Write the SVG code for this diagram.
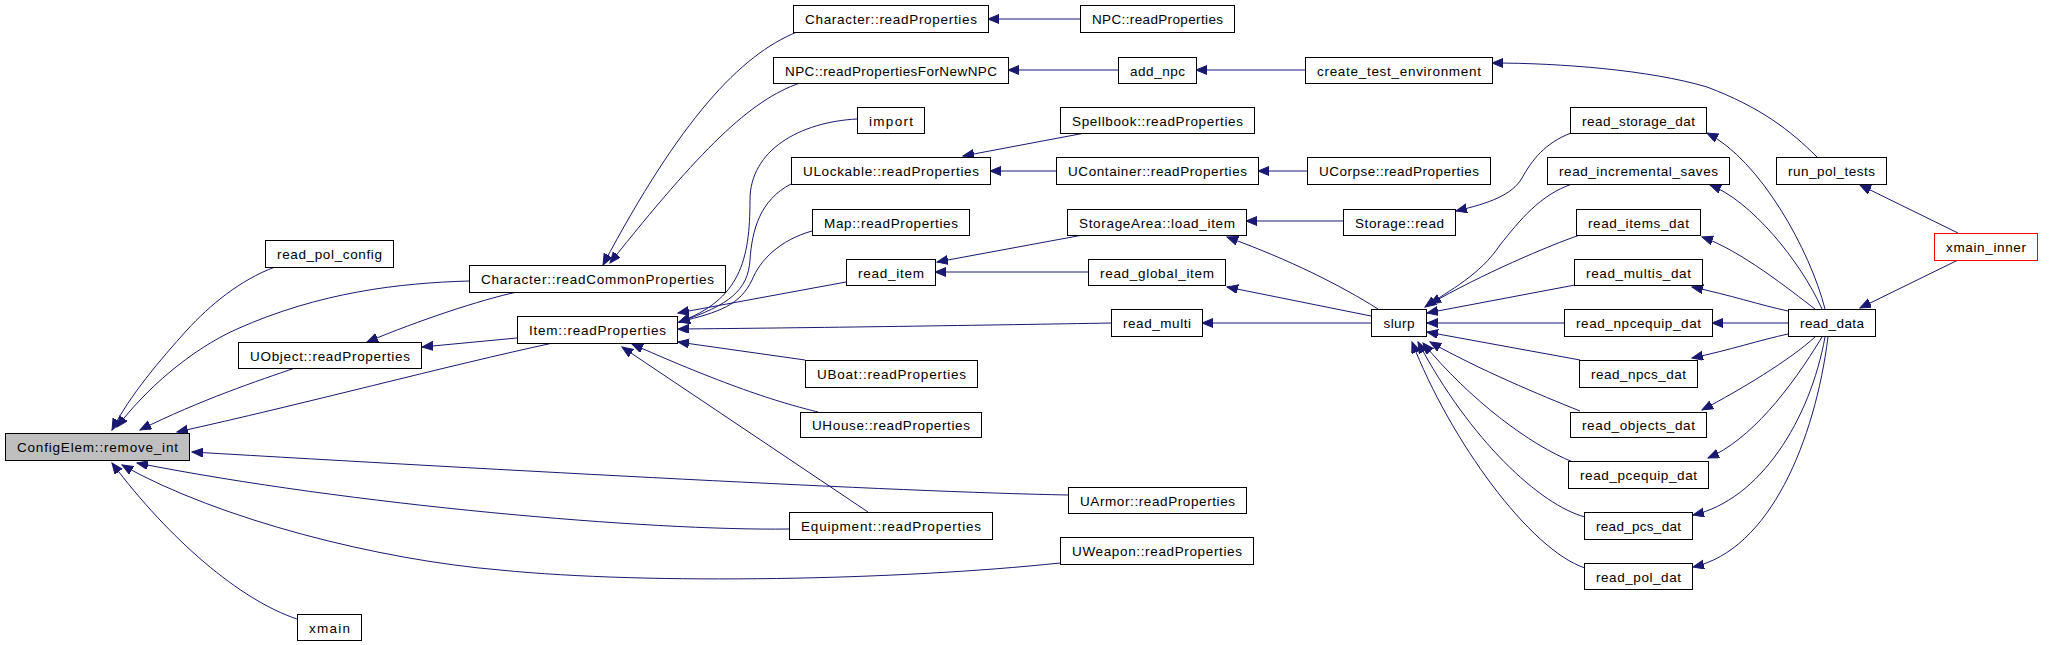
<svg xmlns="http://www.w3.org/2000/svg" width="2053" height="645" viewBox="0 0 2053 645">
<style>
.n rect{fill:#fff;stroke:#000;stroke-width:1}
.n text{font-family:"Liberation Sans",Arial,sans-serif;font-size:13.5px;fill:#000;text-anchor:middle}
#e path{fill:none;stroke:#191970;stroke-width:1;marker-end:url(#a)}
</style>
<defs>
<marker id="a" markerUnits="userSpaceOnUse" markerWidth="12" markerHeight="10" refX="11" refY="4.5" orient="auto"><path d="M0,0 L11,4.5 L0,9 z" fill="#191970" stroke="#191970"/></marker>
</defs>
<rect width="2053" height="645" fill="#fff"/>
<g id="e">
<path d="M275,267 C240,280 210,305 187,330 C160,360 130,395 112,430"/>
<path d="M469,281 C400,283 320,292 237,329 C190,350 145,390 117,427"/>
<path d="M295,368 C260,380 200,400 140,430"/>
<path d="M553,343 C450,365 300,405 177,432"/>
<path d="M1068,495 C900,492 500,470 192,452"/>
<path d="M789,529 C650,531 350,505 137,463"/>
<path d="M1060,563 C900,580 650,585 500,570 C380,560 220,520 122,465"/>
<path d="M297,619 C240,600 170,540 112,463"/>
<path d="M797,32 C740,55 680,120 603,265"/>
<path d="M800,83 C750,100 700,150 610,263"/>
<path d="M517,292 C480,300 420,320 367,342"/>
<path d="M517,338 L422,347"/>
<path d="M857,119 C800,122 750,150 750,200 C750,260 740,300 679,322"/>
<path d="M791,184 C760,200 752,230 750,260 C748,290 730,305 679,322"/>
<path d="M812,231 C780,240 760,260 752,280 C740,305 720,312 679,322"/>
<path d="M846,282 L678,313"/>
<path d="M1111,323 C1000,325 800,328 678,329"/>
<path d="M805,360 L678,342"/>
<path d="M818,412 C790,405 740,392 632,344"/>
<path d="M868,512 L622,347"/>
<path d="M1080,19 L988,19"/>
<path d="M1118,70 L1008,70"/>
<path d="M1305,70 L1196,70"/>
<path d="M1817,157 C1790,130 1760,107 1707,87 C1650,70 1560,63 1492,63"/>
<path d="M1958,233 L1860,185"/>
<path d="M1958,260 L1860,308"/>
<path d="M1085,133 L963,156"/>
<path d="M1056,171 L990,171"/>
<path d="M1307,171 L1258,171"/>
<path d="M1083,235 L937,262"/>
<path d="M1088,272 L935,272"/>
<path d="M1343,221 L1246,221"/>
<path d="M1571,133 C1545,143 1532,160 1522,178 C1512,195 1490,203 1456,211"/>
<path d="M1378,309 C1340,285 1290,260 1227,237"/>
<path d="M1371,316 L1227,287"/>
<path d="M1371,323 L1202,323"/>
<path d="M1572,184 C1540,195 1520,220 1500,245 C1480,275 1450,290 1425,307"/>
<path d="M1580,235 C1550,245 1480,275 1430,304"/>
<path d="M1575,285 L1427,313"/>
<path d="M1564,323 L1427,323"/>
<path d="M1580,360 L1427,332"/>
<path d="M1580,411 C1540,395 1480,370 1430,342"/>
<path d="M1573,462 C1530,445 1470,400 1423,343"/>
<path d="M1585,517 C1540,505 1470,440 1418,342"/>
<path d="M1585,568 C1530,550 1450,440 1412,342"/>
<path d="M1825,309 C1810,250 1760,160 1707,133"/>
<path d="M1822,309 C1800,260 1750,200 1710,185"/>
<path d="M1815,309 C1790,290 1740,250 1702,237"/>
<path d="M1788,311 C1760,305 1730,295 1692,287"/>
<path d="M1788,323 L1712,323"/>
<path d="M1788,334 C1760,340 1730,350 1692,358"/>
<path d="M1815,337 C1790,360 1740,390 1702,410"/>
<path d="M1822,337 C1790,390 1750,440 1708,458"/>
<path d="M1825,337 C1810,420 1760,500 1693,515"/>
<path d="M1828,337 C1815,440 1770,550 1693,567"/>
</g>
<g id="n_remove_int" class="n"><rect x="5.5" y="433.5" width="184" height="27" style="fill:#bfbfbf"/><text x="97.5" y="452" textLength="161" lengthAdjust="spacing">ConfigElem::remove_int</text></g>
<g id="n_read_pol_config" class="n"><rect x="265.5" y="240.5" width="128" height="27"/><text x="329.5" y="259" textLength="105" lengthAdjust="spacing">read_pol_config</text></g>
<g id="n_crcp" class="n"><rect x="469.5" y="265.5" width="256" height="27"/><text x="597.5" y="284" textLength="233" lengthAdjust="spacing">Character::readCommonProperties</text></g>
<g id="n_uobject" class="n"><rect x="238.5" y="342.5" width="183" height="26"/><text x="330" y="360.5" textLength="160" lengthAdjust="spacing">UObject::readProperties</text></g>
<g id="n_item" class="n"><rect x="517.5" y="316.5" width="160" height="27"/><text x="597.5" y="335" textLength="137" lengthAdjust="spacing">Item::readProperties</text></g>
<g id="n_xmain" class="n"><rect x="297.5" y="614.5" width="64" height="26"/><text x="329.5" y="632.5" textLength="41" lengthAdjust="spacing">xmain</text></g>
<g id="n_char_rp" class="n"><rect x="793.5" y="5.5" width="195" height="27"/><text x="891" y="24" textLength="172" lengthAdjust="spacing">Character::readProperties</text></g>
<g id="n_npc_rpfn" class="n"><rect x="773.5" y="57.5" width="235" height="26"/><text x="891" y="75.5" textLength="212" lengthAdjust="spacing">NPC::readPropertiesForNewNPC</text></g>
<g id="n_import" class="n"><rect x="857.5" y="107.5" width="67" height="26"/><text x="891" y="125.5" textLength="44" lengthAdjust="spacing">import</text></g>
<g id="n_ulockable" class="n"><rect x="791.5" y="157.5" width="199" height="27"/><text x="891" y="176" textLength="176" lengthAdjust="spacing">ULockable::readProperties</text></g>
<g id="n_map" class="n"><rect x="812.5" y="209.5" width="157" height="26"/><text x="891" y="227.5" textLength="134" lengthAdjust="spacing">Map::readProperties</text></g>
<g id="n_read_item" class="n"><rect x="846.5" y="259.5" width="89" height="26"/><text x="891" y="277.5" textLength="66" lengthAdjust="spacing">read_item</text></g>
<g id="n_uboat" class="n"><rect x="805.5" y="360.5" width="172" height="27"/><text x="891.5" y="379" textLength="149" lengthAdjust="spacing">UBoat::readProperties</text></g>
<g id="n_uhouse" class="n"><rect x="800.5" y="412.5" width="181" height="25"/><text x="891" y="430" textLength="158" lengthAdjust="spacing">UHouse::readProperties</text></g>
<g id="n_equipment" class="n"><rect x="789.5" y="512.5" width="203" height="27"/><text x="891" y="531" textLength="180" lengthAdjust="spacing">Equipment::readProperties</text></g>
<g id="n_uarmor" class="n"><rect x="1068.5" y="487.5" width="178" height="26"/><text x="1157.5" y="505.5" textLength="155" lengthAdjust="spacing">UArmor::readProperties</text></g>
<g id="n_uweapon" class="n"><rect x="1060.5" y="537.5" width="193" height="27"/><text x="1157" y="556" textLength="170" lengthAdjust="spacing">UWeapon::readProperties</text></g>
<g id="n_npc_rp" class="n"><rect x="1080.5" y="5.5" width="154" height="27"/><text x="1157.5" y="24" textLength="131" lengthAdjust="spacing">NPC::readProperties</text></g>
<g id="n_add_npc" class="n"><rect x="1118.5" y="57.5" width="78" height="26"/><text x="1157.5" y="75.5" textLength="55" lengthAdjust="spacing">add_npc</text></g>
<g id="n_cte" class="n"><rect x="1305.5" y="57.5" width="187" height="26"/><text x="1399" y="75.5" textLength="164" lengthAdjust="spacing">create_test_environment</text></g>
<g id="n_spellbook" class="n"><rect x="1060.5" y="107.5" width="194" height="26"/><text x="1157.5" y="125.5" textLength="171" lengthAdjust="spacing">Spellbook::readProperties</text></g>
<g id="n_ucontainer" class="n"><rect x="1056.5" y="157.5" width="202" height="27"/><text x="1157.5" y="176" textLength="179" lengthAdjust="spacing">UContainer::readProperties</text></g>
<g id="n_ucorpse" class="n"><rect x="1307.5" y="157.5" width="183" height="27"/><text x="1399" y="176" textLength="160" lengthAdjust="spacing">UCorpse::readProperties</text></g>
<g id="n_load_item" class="n"><rect x="1067.5" y="209.5" width="179" height="26"/><text x="1157" y="227.5" textLength="156" lengthAdjust="spacing">StorageArea::load_item</text></g>
<g id="n_storage_read" class="n"><rect x="1343.5" y="209.5" width="112" height="26"/><text x="1399.5" y="227.5" textLength="89" lengthAdjust="spacing">Storage::read</text></g>
<g id="n_read_global_item" class="n"><rect x="1088.5" y="259.5" width="137" height="26"/><text x="1157" y="277.5" textLength="114" lengthAdjust="spacing">read_global_item</text></g>
<g id="n_read_multi" class="n"><rect x="1111.5" y="309.5" width="91" height="27"/><text x="1157" y="328" textLength="68" lengthAdjust="spacing">read_multi</text></g>
<g id="n_slurp" class="n"><rect x="1371.5" y="309.5" width="55" height="27"/><text x="1399" y="328" textLength="31" lengthAdjust="spacing">slurp</text></g>
<g id="n_read_storage_dat" class="n"><rect x="1570.5" y="107.5" width="136" height="26"/><text x="1638.5" y="125.5" textLength="113" lengthAdjust="spacing">read_storage_dat</text></g>
<g id="n_read_incremental_saves" class="n"><rect x="1547.5" y="157.5" width="182" height="27"/><text x="1638.5" y="176" textLength="159" lengthAdjust="spacing">read_incremental_saves</text></g>
<g id="n_run_pol_tests" class="n"><rect x="1776.5" y="157.5" width="110" height="27"/><text x="1831.5" y="176" textLength="87" lengthAdjust="spacing">run_pol_tests</text></g>
<g id="n_read_items_dat" class="n"><rect x="1576.5" y="209.5" width="124" height="26"/><text x="1638.5" y="227.5" textLength="101" lengthAdjust="spacing">read_items_dat</text></g>
<g id="n_xmain_inner" class="n"><rect x="1934.5" y="233.5" width="103" height="27" style="stroke:#ff0000"/><text x="1986" y="252" textLength="80" lengthAdjust="spacing">xmain_inner</text></g>
<g id="n_read_multis_dat" class="n"><rect x="1574.5" y="259.5" width="128" height="26"/><text x="1638.5" y="277.5" textLength="105" lengthAdjust="spacing">read_multis_dat</text></g>
<g id="n_read_npcequip_dat" class="n"><rect x="1564.5" y="309.5" width="148" height="27"/><text x="1638.5" y="328" textLength="125" lengthAdjust="spacing">read_npcequip_dat</text></g>
<g id="n_read_data" class="n"><rect x="1788.5" y="309.5" width="87" height="27"/><text x="1832" y="328" textLength="64" lengthAdjust="spacing">read_data</text></g>
<g id="n_read_npcs_dat" class="n"><rect x="1579.5" y="360.5" width="118" height="27"/><text x="1638.5" y="379" textLength="95" lengthAdjust="spacing">read_npcs_dat</text></g>
<g id="n_read_objects_dat" class="n"><rect x="1570.5" y="412.5" width="136" height="25"/><text x="1638.5" y="430" textLength="113" lengthAdjust="spacing">read_objects_dat</text></g>
<g id="n_read_pcequip_dat" class="n"><rect x="1568.5" y="461.5" width="140" height="27"/><text x="1638.5" y="480" textLength="117" lengthAdjust="spacing">read_pcequip_dat</text></g>
<g id="n_read_pcs_dat" class="n"><rect x="1584.5" y="512.5" width="108" height="27"/><text x="1638.5" y="531" textLength="85" lengthAdjust="spacing">read_pcs_dat</text></g>
<g id="n_read_pol_dat" class="n"><rect x="1584.5" y="563.5" width="108" height="26"/><text x="1638.5" y="581.5" textLength="85" lengthAdjust="spacing">read_pol_dat</text></g>
</svg>
